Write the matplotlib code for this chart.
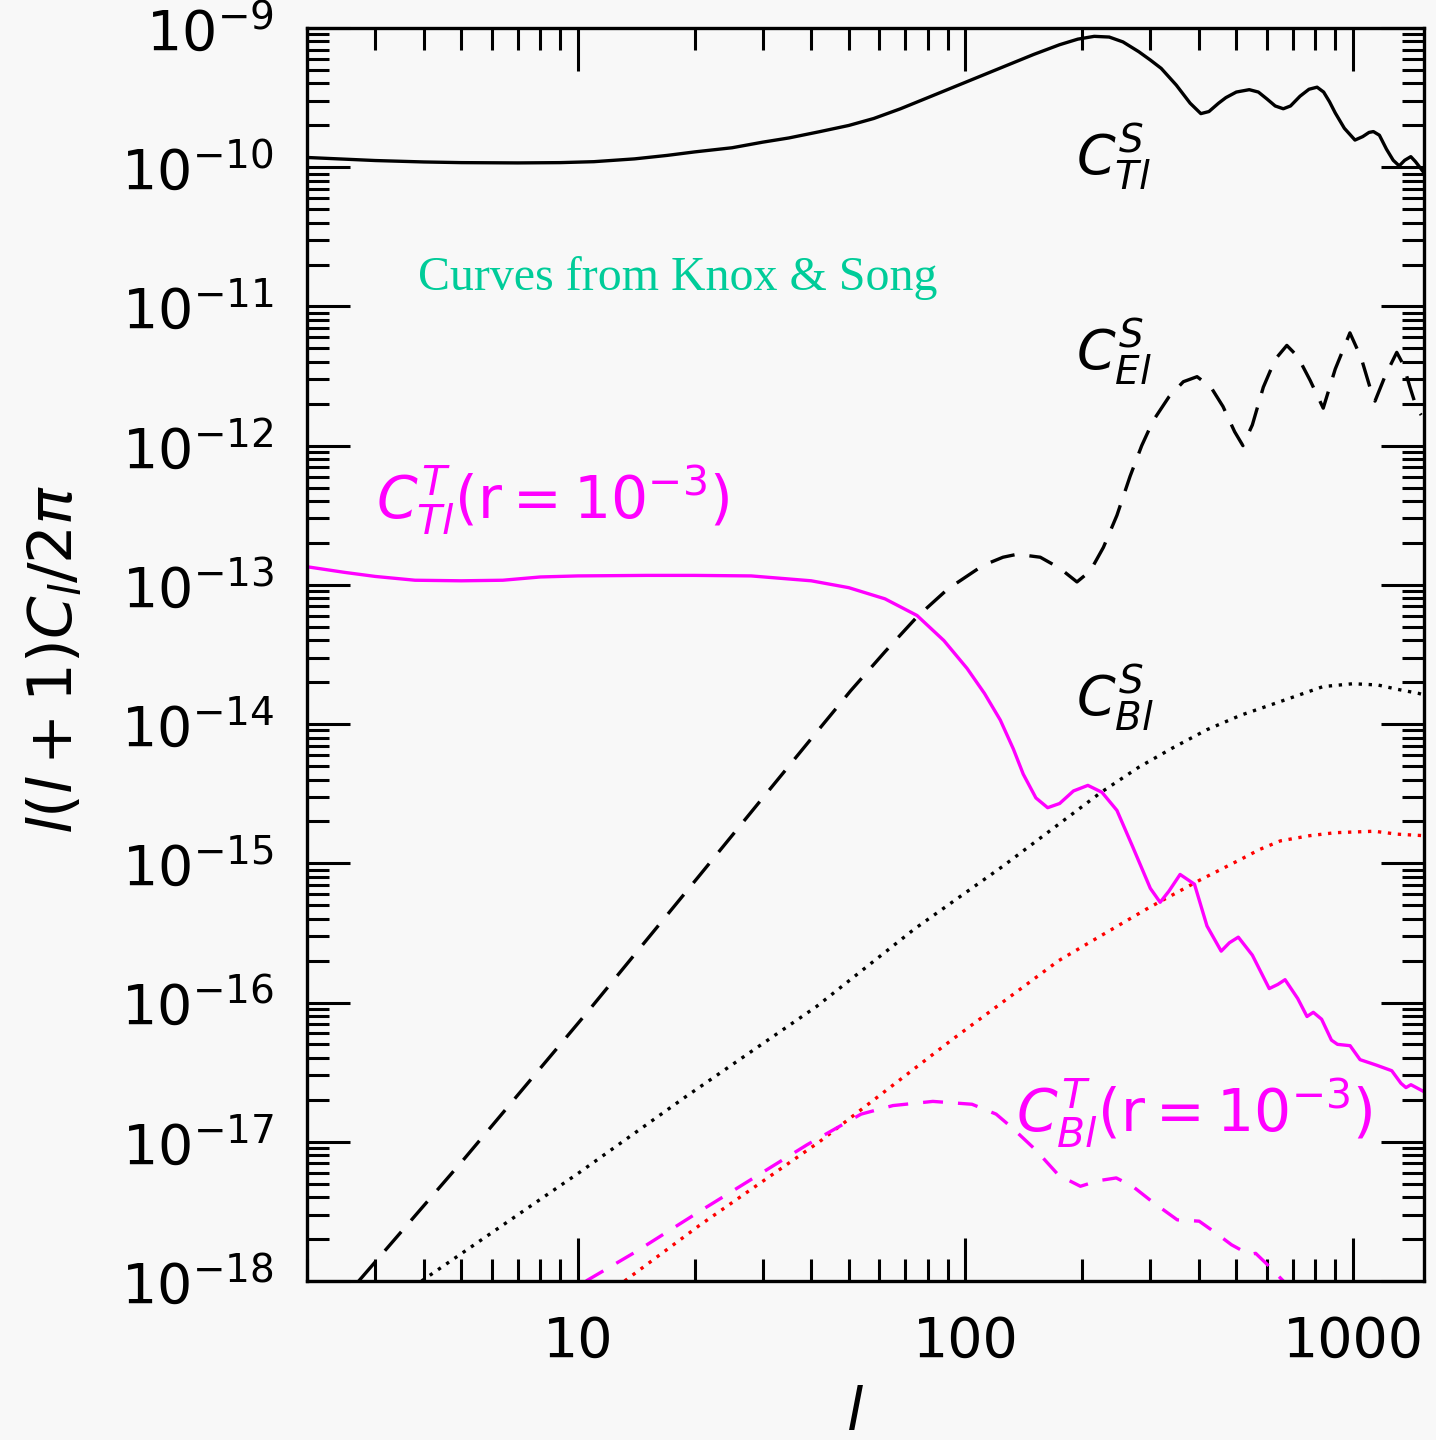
import numpy as np
import matplotlib
matplotlib.use('Agg')
import matplotlib.pyplot as plt
from matplotlib.ticker import (LogLocator, FixedLocator, FixedFormatter, NullFormatter,
                               LogFormatterSciNotation)

# ---------------- data ----------------
# scalar temperature  C_Tl^S  (black solid)
l_tt_s = [2, 3, 4, 5, 7, 9, 11, 14, 17, 20, 25, 30, 35, 42, 50, 58, 68, 80, 100, 120,
          150, 175, 195, 215, 235, 255, 280, 300, 320, 350, 380, 405, 425, 450, 470,
          500, 540, 570, 600, 630, 661, 690, 730, 770, 808, 840, 870, 900, 950, 1012,
          1060, 1100, 1129, 1170, 1220, 1270, 1316, 1360, 1410, 1450, 1525]
cl_tt_s = [1.175e-10, 1.117e-10, 1.091e-10, 1.079e-10, 1.074e-10, 1.079e-10, 1.096e-10,
           1.148e-10, 1.216e-10, 1.288e-10, 1.380e-10, 1.514e-10, 1.622e-10, 1.799e-10,
           1.995e-10, 2.239e-10, 2.630e-10, 3.162e-10, 4.074e-10, 5.012e-10, 6.457e-10,
           7.586e-10, 8.318e-10, 8.710e-10, 8.610e-10, 7.943e-10, 6.761e-10, 5.888e-10,
           5.129e-10, 3.890e-10, 2.884e-10, 2.427e-10, 2.512e-10, 2.884e-10, 3.162e-10,
           3.467e-10, 3.606e-10, 3.467e-10, 3.090e-10, 2.754e-10, 2.630e-10, 2.754e-10,
           3.236e-10, 3.631e-10, 3.758e-10, 3.467e-10, 2.951e-10, 2.455e-10, 1.905e-10,
           1.567e-10, 1.660e-10, 1.778e-10, 1.803e-10, 1.698e-10, 1.349e-10, 1.122e-10,
           1.023e-10, 1.122e-10, 1.191e-10, 1.096e-10, 9.12e-11]

# scalar E-mode  C_El^S  (black dashed)
l_ee_s = [2.72, 5.1, 10.5, 20.7, 29, 39.6, 50.6, 62, 75, 90, 111, 125, 136, 156, 175,
          194, 210, 227, 246, 266, 285, 305, 335, 365, 396, 430, 462, 495, 520, 550, 587,
          630, 675, 720, 775, 838, 900, 982, 1050, 1106, 1140, 1210, 1297, 1350, 1403,
          1460, 1500]
cl_ee_s = [1.00e-18, 7.59e-18, 8.32e-17, 8.32e-16, 2.63e-15, 7.59e-15, 1.74e-14,
           3.31e-14, 5.89e-14, 9.33e-14, 1.38e-13, 1.58e-13, 1.66e-13, 1.58e-13, 1.32e-13,
           1.05e-13, 1.26e-13, 1.86e-13, 3.16e-13, 6.03e-13, 1.00e-12, 1.51e-12, 2.24e-12,
           2.88e-12, 3.13e-12, 2.63e-12, 1.91e-12, 1.26e-12, 1.00e-12, 1.41e-12, 2.63e-12,
           4.17e-12, 5.25e-12, 4.37e-12, 2.95e-12, 1.86e-12, 3.55e-12, 6.46e-12, 4.27e-12,
           2.63e-12, 2.09e-12, 3.16e-12, 4.68e-12, 3.80e-12, 2.63e-12, 1.86e-12, 1.66e-12]

# scalar (lensing) B-mode  C_Bl^S  (black dotted)
l_bb_s = [3.95, 10.1, 18.9, 41.2, 74, 125, 224, 280, 343, 420, 514, 630, 837, 1000,
          1159, 1300, 1480, 1525]
cl_bb_s = [1.00e-18, 6.03e-18, 2.09e-17, 9.33e-17, 3.39e-16, 9.55e-16, 3.24e-15,
           4.90e-15, 6.76e-15, 9.12e-15, 1.16e-14, 1.41e-14, 1.86e-14, 1.95e-14,
           1.91e-14, 1.78e-14, 1.66e-14, 1.62e-14]

# red dotted curve
l_red = [13.2, 20.6, 42, 92, 174, 230, 297, 403, 514, 575, 650, 773, 900, 1135, 1300,
         1525]
cl_red = [1.00e-18, 2.51e-18, 1.00e-17, 5.37e-17, 2.00e-16, 3.16e-16, 4.79e-16,
          7.59e-16, 1.07e-15, 1.26e-15, 1.45e-15, 1.58e-15, 1.66e-15, 1.70e-15,
          1.62e-15, 1.58e-15]

# tensor temperature  C_Tl^T (r=1e-3)  (magenta solid)
l_tt_t = [2, 2.5, 3, 3.8, 5, 6.4, 8, 10, 15, 20, 28, 40, 50, 62, 75, 88, 101, 112, 123,
          133, 141, 152, 163, 175, 190, 207, 225, 246, 270, 300, 318, 335, 358, 390, 420,
          457, 480, 506, 550, 608, 640, 668, 720, 761, 790, 830, 880, 912, 983, 1043,
          1150, 1259, 1330, 1370, 1411, 1525]
cl_tt_t = [1.35e-13, 1.23e-13, 1.15e-13, 1.08e-13, 1.07e-13, 1.08e-13, 1.14e-13,
           1.16e-13, 1.17e-13, 1.17e-13, 1.16e-13, 1.07e-13, 9.55e-14, 7.94e-14,
           6.03e-14, 3.98e-14, 2.51e-14, 1.66e-14, 1.07e-14, 6.61e-15, 4.37e-15,
           2.95e-15, 2.51e-15, 2.69e-15, 3.31e-15, 3.63e-15, 3.24e-15, 2.40e-15,
           1.32e-15, 6.61e-16, 5.25e-16, 6.31e-16, 8.32e-16, 7.08e-16, 3.55e-16,
           2.34e-16, 2.69e-16, 2.95e-16, 2.19e-16, 1.26e-16, 1.35e-16, 1.46e-16,
           1.07e-16, 7.94e-17, 8.51e-17, 7.59e-17, 5.37e-17, 5.01e-17, 4.90e-17,
           3.89e-17, 3.55e-17, 3.24e-17, 2.63e-17, 2.45e-17, 2.57e-17, 2.29e-17]

# tensor B-mode  C_Bl^T (r=1e-3)  (magenta dashed)
l_bb_t = [10.5, 14.1, 20.6, 25.2, 39.1, 53.8, 65, 82.4, 104, 120, 132, 152, 174, 198,
          220, 245, 270, 303, 352, 401, 440, 486, 540, 561, 600, 661, 700]
cl_bb_t = [1.00e-18, 1.62e-18, 3.16e-18, 4.47e-18, 9.55e-18, 1.58e-17, 1.82e-17,
           1.95e-17, 1.86e-17, 1.58e-17, 1.26e-17, 8.71e-18, 5.75e-18, 4.79e-18,
           5.25e-18, 5.50e-18, 4.79e-18, 3.72e-18, 2.75e-18, 2.69e-18, 2.24e-18,
           1.82e-18, 1.55e-18, 1.58e-18, 1.32e-18, 1.00e-18, 8.3e-19]

x_major = [10, 100, 1000]
x_major_labels = ['10', '100', '1000']
y_major = [1e-18, 1e-17, 1e-16, 1e-15, 1e-14, 1e-13, 1e-12, 1e-11, 1e-10, 1e-9]

# ---------------- figure ----------------
W, H = 1436, 1440
bg = '#f8f8f8'
fig = plt.figure(figsize=(W / 100, H / 100), dpi=100)
fig.patch.set_facecolor(bg)


def fx(px):
    return px / W


def fy(py):
    return 1 - py / H


ax = fig.add_axes([fx(307), fy(1281), (1424 - 307) / W, (1281 - 28) / H])
ax.set_facecolor(bg)
ax.set_xscale('log')
ax.set_yscale('log')
ax.set_xlim(2, 1525)
ax.set_ylim(1e-18, 1e-9)

magenta = '#ff00ff'
ax.plot(l_tt_s, cl_tt_s, color='black', lw=2.4, solid_joinstyle='round')
ax.plot(l_ee_s, cl_ee_s, color='black', lw=2.4, linestyle=(0, (7.5, 4.5)))
ax.plot(l_bb_s, cl_bb_s, color='black', lw=2.4, linestyle=(0, (1.0, 2.0)))
ax.plot(l_red, cl_red, color='#ff0000', lw=2.4, linestyle=(0, (1.0, 2.0)))
ax.plot(l_tt_t, cl_tt_t, color=magenta, lw=2.4, solid_joinstyle='round')
ax.plot(l_bb_t, cl_bb_t, color=magenta, lw=2.4, linestyle=(0, (6.0, 4.5)))

# ticks
ax.xaxis.set_major_locator(FixedLocator(x_major))
ax.xaxis.set_major_formatter(FixedFormatter(x_major_labels))
ax.xaxis.set_minor_locator(LogLocator(base=10, subs=np.arange(2, 10), numticks=20))
ax.xaxis.set_minor_formatter(NullFormatter())
ax.yaxis.set_major_locator(FixedLocator(y_major))
ax.yaxis.set_major_formatter(LogFormatterSciNotation())
ax.yaxis.set_minor_locator(LogLocator(base=10, subs=np.arange(2, 10), numticks=20))
ax.yaxis.set_minor_formatter(NullFormatter())
ax.tick_params(which='both', direction='in', top=True, right=True, width=2.2,
               colors='black')
ax.tick_params(which='major', length=31, labelsize=40, pad=24)
ax.tick_params(which='minor', length=16)
for s in ax.spines.values():
    s.set_linewidth(2.4)

# axis labels
fig.text(fx(855), fy(1414), r'$l$', fontsize=42, ha='center', va='center')
fig.text(fx(55), fy(660), r'$l(l+1)C_l/2\pi$', fontsize=44, ha='center', va='center',
         rotation=90)

# curve labels
fig.text(fx(1076), fy(157), r'$C^{S}_{Tl}$', fontsize=40, ha='left', va='center')
fig.text(fx(1076), fy(352), r'$C^{S}_{El}$', fontsize=40, ha='left', va='center')
fig.text(fx(1076), fy(698), r'$C^{S}_{Bl}$', fontsize=40, ha='left', va='center')
fig.text(fx(376), fy(500), r'$C^{T}_{Tl}(\mathrm{r}=10^{-3})$', fontsize=42,
         color=magenta, ha='left', va='center')
fig.text(fx(1016), fy(1113), r'$C^{T}_{Bl}(\mathrm{r}=10^{-3})$', fontsize=42,
         color=magenta, ha='left', va='center')

fig.text(fx(418), fy(290), 'Curves from Knox & Song', fontsize=34.5,
         family='Liberation Serif', color='#00cc99', ha='left', va='baseline')

fig.savefig('out.png', dpi=100, facecolor=bg)
